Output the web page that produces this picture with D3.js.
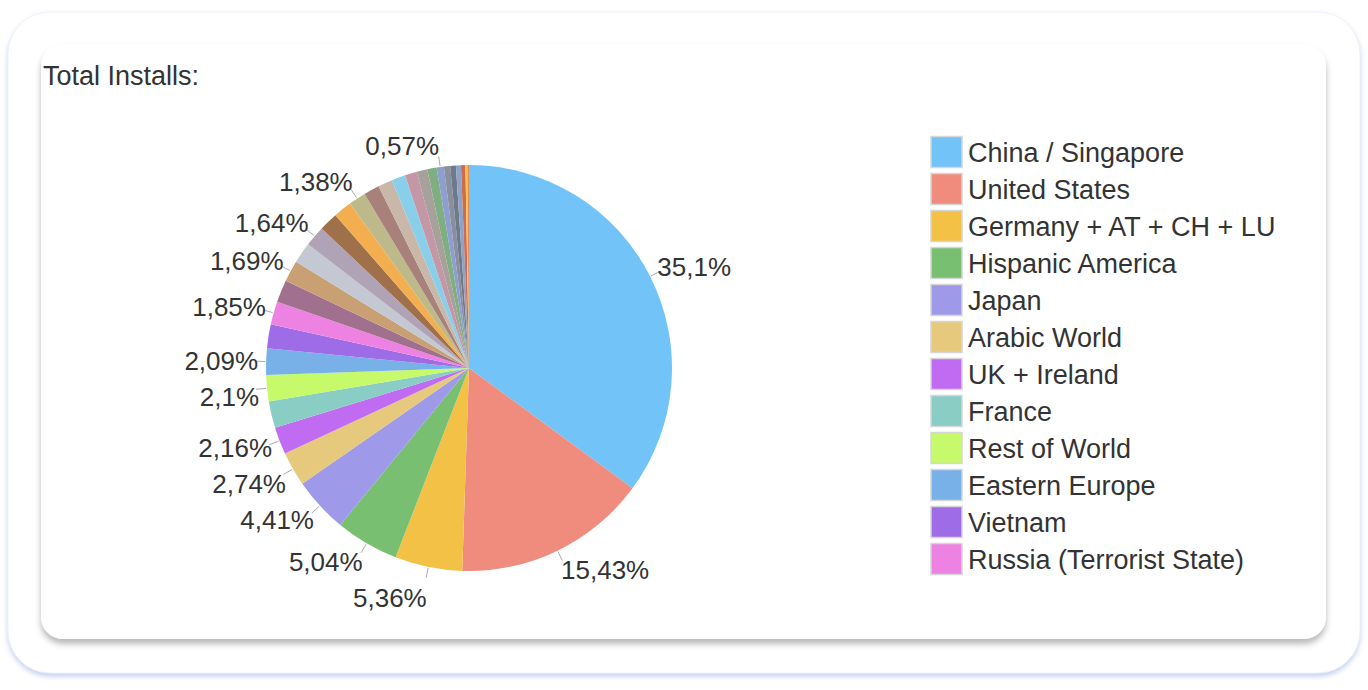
<!DOCTYPE html>
<html>
<head>
<meta charset="utf-8">
<script src="https://cdn.jsdelivr.net/npm/d3@7"></script>
<style>
  html, body { margin: 0; padding: 0; background: #ffffff; }
  #chart { width: 1368px; height: 690px; }
  text { font-family: "Liberation Sans", Arial, sans-serif; }
</style>
</head>
<body>
<div id="chart"></div>
<script>
// Slice names (legend only shows the first 12 entries)
const regions = [
  "China / Singapore", "United States", "Germany + AT + CH + LU", "Hispanic America",
  "Japan", "Arabic World", "UK + Ireland", "France", "Rest of World",
  "Eastern Europe", "Vietnam", "Russia (Terrorist State)"
];

// Share of installs in percent, clockwise from 12 o'clock
const shares = [
  35.1, 15.43, 5.36, 5.04, 4.41, 2.74, 2.16, 2.12, 2.1, 2.09, 1.9, 1.85,
  1.78, 1.69, 1.66, 1.64, 1.5, 1.45, 1.38, 1.25, 1.15, 1.1, 0.95, 0.85,
  0.75, 0.57, 0.5, 0.45, 0.4, 0.35, 0.15, 0.13
];

// which slices carry an outside label
const labelled = [
  true, true, true, true, true, true, true, false, true, true, false, true,
  false, true, false, true, false, false, true, false, false, false, false, false,
  false, true, false, false, false, false, false, false
];

const sliceColors = [
  "#72c4f8", "#ef8c7e", "#f3c145", "#78bf72", "#9e9ae9", "#e6c97c", "#bf6cf3", "#8acdc4",
  "#c7fa6a", "#78b1e8", "#9e6ce6", "#ee82e3",
  "#a1708e", "#c8a074", "#c4c8d2", "#b0a3b6", "#a0704a", "#f3af4f", "#bdb98a", "#a7817a",
  "#c9b8aa", "#8acfea", "#c597a6", "#a8a09a", "#7fae80", "#8e9fcf", "#8a8f9e", "#6e7a8c",
  "#8da3c8", "#d06a52", "#f5c542", "#e58a5a"
];

const W = 1368, H = 690;
const svg = d3.select("#chart").append("svg").attr("width", W).attr("height", H);

const defs = svg.append("defs");
const outerShadow = defs.append("filter").attr("id", "outerShadow")
  .attr("x", "-5%").attr("y", "-5%").attr("width", "110%").attr("height", "115%");
outerShadow.append("feDropShadow").attr("dx", 0).attr("dy", 3).attr("stdDeviation", 2.5)
  .attr("flood-color", "#7f95e0").attr("flood-opacity", 0.45);
const innerShadow = defs.append("filter").attr("id", "innerShadow")
  .attr("x", "-5%").attr("y", "-5%").attr("width", "110%").attr("height", "115%");
innerShadow.append("feDropShadow").attr("dx", 0).attr("dy", 5).attr("stdDeviation", 3)
  .attr("flood-color", "#000").attr("flood-opacity", 0.28);

// cards
svg.append("rect")
  .attr("x", 8).attr("y", 12).attr("width", 1352).attr("height", 661)
  .attr("rx", 42).attr("fill", "#fff")
  .attr("stroke", "#eef1fa").attr("stroke-width", 1)
  .attr("filter", "url(#outerShadow)");

svg.append("rect")
  .attr("x", 41).attr("y", 44).attr("width", 1285).attr("height", 595)
  .attr("rx", 22).attr("fill", "#fff")
  .attr("filter", "url(#innerShadow)");

// title
svg.append("text")
  .attr("x", 43).attr("y", 85)
  .attr("font-size", 27).attr("fill", "#333")
  .text("Total Installs:");

// pie
const cx = 469, cy = 368, R = 203;
const g = svg.append("g").attr("transform", `translate(${cx},${cy})`);

const data = shares.map((v, i) => ({ value: v, color: sliceColors[i], shown: labelled[i] }));
const pie = d3.pie().value(d => d.value).sort(null);
const arcs = pie(data);
const arc = d3.arc().innerRadius(0).outerRadius(R);

g.selectAll("path.slice")
  .data(arcs)
  .enter()
  .append("path")
  .attr("class", "slice")
  .attr("d", arc)
  .attr("fill", d => d.data.color);

// labels
const fmt = v => String(v).replace(".", ",") + "%";
const labels = arcs.filter(d => d.data.shown).map(d => {
  const a = (d.startAngle + d.endAngle) / 2;
  const s = Math.sin(a), c = Math.cos(a);
  const r = R + 8;
  return {
    a, s, c,
    text: fmt(d.data.value),
    x: r * s,
    y: -r * c - 13 * c,
    left: s < 0
  };
});

// push overlapping labels apart on each side
[true, false].forEach(side => {
  const list = labels.filter(l => l.left === side).sort((p, q) => p.y - q.y);
  for (let i = 1; i < list.length; i++) {
    if (list[i].y < list[i - 1].y + 36) list[i].y = list[i - 1].y + 36;
  }
});

g.selectAll("line.tick")
  .data(labels)
  .enter()
  .append("line")
  .attr("x1", d => (R + 1) * d.s)
  .attr("y1", d => -(R + 1) * d.c)
  .attr("x2", d => (R + 11) * d.s)
  .attr("y2", d => -(R + 11) * d.c)
  .attr("stroke", "#aaa")
  .attr("stroke-width", 1);

g.selectAll("text.lbl")
  .data(labels)
  .enter()
  .append("text")
  .attr("class", "lbl")
  .attr("x", d => d.x)
  .attr("y", d => d.y)
  .attr("dy", "0.35em")
  .attr("text-anchor", d => (d.left ? "end" : "start"))
  .attr("font-size", 26)
  .attr("fill", "#333")
  .text(d => d.text);

// legend
const legend = svg.append("g").attr("transform", "translate(931,152)");
const rows = legend.selectAll("g")
  .data(regions)
  .enter()
  .append("g")
  .attr("transform", (d, i) => `translate(0,${i * 37})`);

rows.append("rect")
  .attr("x", 0).attr("y", -15.5)
  .attr("width", 31).attr("height", 31)
  .attr("fill", (d, i) => sliceColors[i])
  .attr("stroke", "#d6d6d6").attr("stroke-width", 1.5);

rows.append("text")
  .attr("x", 37).attr("y", 1)
  .attr("dy", "0.35em")
  .attr("font-size", 27)
  .attr("fill", "#333")
  .text(d => d);
</script>
</body>
</html>
